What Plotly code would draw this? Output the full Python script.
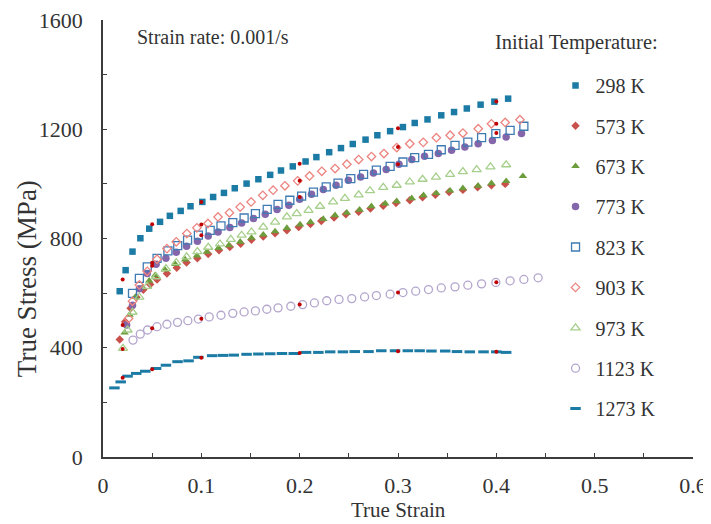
import plotly.graph_objects as go

# ---- data (true strain, true stress MPa) ----
x_298 = [0.017, 0.023, 0.030, 0.038, 0.047, 0.058, 0.068, 0.079, 0.089, 0.101, 0.112, 0.123,
         0.134, 0.146, 0.158, 0.170, 0.181, 0.193, 0.206, 0.217, 0.230, 0.242, 0.254, 0.267,
         0.279, 0.292, 0.305, 0.317, 0.330, 0.344, 0.357, 0.370, 0.384, 0.398, 0.412]
y_298 = [607, 684, 752, 801, 836, 861, 883, 901, 918, 934, 952, 967,
         984, 1001, 1017, 1033, 1049, 1064, 1082, 1098, 1116, 1131, 1146, 1162,
         1178, 1193, 1208, 1223, 1236, 1251, 1263, 1276, 1290, 1301, 1312]

x_573 = [0.017, 0.0225, 0.028, 0.034, 0.041, 0.048, 0.055, 0.065, 0.075, 0.085, 0.096, 0.107,
         0.118, 0.129, 0.140, 0.151, 0.163, 0.175, 0.187, 0.199, 0.211, 0.222, 0.235, 0.247,
         0.260, 0.272, 0.285, 0.298, 0.312, 0.325, 0.338, 0.352, 0.366, 0.381, 0.395, 0.409]
y_573 = [430, 495, 545, 585, 612, 632, 650, 672, 693, 712, 728, 743,
         757, 769, 781, 795, 807, 819, 830, 842, 853, 864, 877, 889,
         898, 910, 920, 930, 940, 951, 960, 970, 978, 988, 995, 1000]

x_673 = [0.022, 0.027, 0.033, 0.040, 0.047, 0.053, 0.063, 0.0735, 0.0836, 0.0955, 0.1056, 0.1175,
         0.128, 0.1395, 0.151, 0.163, 0.175, 0.187, 0.2004, 0.211, 0.224, 0.236, 0.248, 0.261,
         0.273, 0.287, 0.2987, 0.314, 0.326, 0.339, 0.353, 0.366, 0.3815, 0.395, 0.41, 0.427]
y_673 = [455, 520, 586, 620, 645, 665, 686, 706, 723, 737, 751, 765,
         775, 788, 802, 814, 826, 838, 851, 860, 871, 885, 894, 905,
         918, 928, 936, 947, 958, 966, 975, 984, 993, 1002, 1010, 1028]

x_773 = [0.024, 0.030, 0.037, 0.045, 0.054, 0.064, 0.0745, 0.085, 0.096, 0.107, 0.117, 0.129,
         0.141, 0.153, 0.165, 0.177, 0.189, 0.200, 0.212, 0.224, 0.237, 0.2495, 0.262, 0.275,
         0.288, 0.301, 0.314, 0.327, 0.341, 0.3545, 0.368, 0.3815, 0.396, 0.410, 0.4256]
y_773 = [483, 556, 616, 672, 706, 728, 750, 772, 790, 809, 824, 840,
         857, 873, 889, 906, 922, 944, 962, 979, 995, 1013, 1025, 1040,
         1053, 1072, 1089, 1101, 1111, 1123, 1135, 1147, 1159, 1172, 1184]

x_823 = [0.030, 0.037, 0.045, 0.055, 0.066, 0.076, 0.086, 0.097, 0.109, 0.120, 0.132, 0.1435,
         0.155, 0.167, 0.178, 0.190, 0.202, 0.214, 0.227, 0.239, 0.252, 0.265, 0.278, 0.292,
         0.305, 0.317, 0.331, 0.344, 0.358, 0.371, 0.385, 0.3995, 0.414, 0.428]
y_823 = [599, 654, 696, 727, 755, 774, 794, 812, 830, 846, 858, 875,
         891, 907, 925, 940, 955, 970, 989, 1003, 1019, 1035, 1050, 1064,
         1080, 1096, 1108, 1125, 1141, 1153, 1169, 1184, 1196, 1211]

x_903 = [0.026, 0.030, 0.037, 0.045, 0.0549, 0.065, 0.0745, 0.0853, 0.0955, 0.1067, 0.117, 0.1286,
         0.1395, 0.1506, 0.1625, 0.173, 0.185, 0.198, 0.210, 0.2225, 0.236, 0.248, 0.260, 0.273,
         0.2857, 0.2987, 0.312, 0.3257, 0.339, 0.353, 0.366, 0.3816, 0.395, 0.409, 0.424]
y_903 = [507, 570, 630, 680, 724, 763, 788, 818, 839, 855, 879, 894,
         915, 934, 958, 977, 993, 1011, 1029, 1046, 1056, 1072, 1089, 1100,
         1111, 1133, 1147, 1152, 1169, 1178, 1186, 1202, 1220, 1225, 1235]

x_973 = [0.0203, 0.025, 0.030, 0.037, 0.045, 0.054, 0.064, 0.0745, 0.085, 0.096, 0.107, 0.119,
         0.130, 0.141, 0.151, 0.163, 0.175, 0.187, 0.197, 0.209, 0.2207, 0.234, 0.246, 0.260,
         0.2715, 0.285, 0.2987, 0.312, 0.325, 0.3386, 0.353, 0.366, 0.380, 0.394, 0.410]
y_973 = [398, 465, 530, 585, 625, 660, 690, 712, 733, 752, 768, 780,
         797, 812, 824, 842, 860, 879, 891, 903, 918, 934, 947, 960,
         975, 987, 995, 1007, 1017, 1025, 1035, 1045, 1052, 1062, 1070]

x_1123 = [0.0305, 0.0379, 0.0453, 0.0549, 0.065, 0.0758, 0.0863, 0.097, 0.108, 0.120, 0.132, 0.1435,
          0.155, 0.1666, 0.178, 0.191, 0.203, 0.215, 0.2275, 0.240, 0.253, 0.266, 0.278, 0.292,
          0.305, 0.318, 0.331, 0.344, 0.358, 0.371, 0.385, 0.3995, 0.414, 0.428, 0.4425]
y_1123 = [428, 450, 465, 477, 486, 493, 499, 505, 513, 519, 526, 531,
          535, 541, 546, 552, 558, 564, 572, 577, 580, 586, 591, 596,
          602, 607, 613, 619, 623, 629, 634, 639, 645, 650, 656]

x_1273 = [0.0116, 0.018, 0.025, 0.0338, 0.043, 0.054, 0.064, 0.0758, 0.087, 0.097, 0.111, 0.122,
          0.133, 0.146, 0.158, 0.170, 0.182, 0.194, 0.2065, 0.219, 0.231, 0.244, 0.256, 0.270,
          0.283, 0.297, 0.310, 0.322, 0.334, 0.348, 0.360, 0.373, 0.387, 0.400, 0.410]
y_1273 = [253, 275, 296, 306, 314, 324, 336, 349, 352, 365, 371, 372,
          373, 376, 377, 378, 379, 379, 383, 383, 385, 385, 386, 386,
          389, 389, 389, 389, 388, 388, 386, 385, 385, 385, 383]

# small red reference dots sitting on top of the curves
x_red = [0.02, 0.05, 0.1, 0.2, 0.3, 0.4,
         0.05, 0.1, 0.2, 0.3, 0.4,
         0.05, 0.1, 0.2, 0.3, 0.4,
         0.02, 0.02,
         0.05, 0.1, 0.2, 0.3, 0.4,
         0.02, 0.05, 0.1, 0.2, 0.3, 0.4]
y_red = [650, 852, 934, 1074, 1204, 1302,
         711, 851, 1011, 1135, 1220,
         700, 812, 952, 1072, 1186,
         483, 395,
         471, 506, 558, 602, 640,
         290, 321, 363, 381, 387, 385]

series = [
    ("298 K", x_298, y_298, "square", "#1C7BA5", 6.5, 0),
    ("573 K", x_573, y_573, "diamond", "#C9514B", 6.5, 0),
    ("673 K", x_673, y_673, "triangle-up", "#6C9C3B", 7.5, 0),
    ("773 K", x_773, y_773, "circle", "#8467AA", 7.5, 0),
    ("823 K", x_823, y_823, "square-open", "#3F7BB3", 8, 1.3),
    ("903 K", x_903, y_903, "diamond-open", "#EC8580", 6.5, 1.3),
    ("973 K", x_973, y_973, "triangle-up-open", "#A6CF8B", 8, 1.3),
    ("1123 K", x_1123, y_1123, "circle-open", "#B3A5CD", 8, 1.3),
    ("1273 K", x_1273, y_1273, "line-ew", "#1C7BA5", 7.5, 3),
]

fig = go.Figure()
for name, xs, ys, sym, col, size, lw in series:
    fig.add_trace(go.Scatter(
        x=xs, y=ys, mode="markers", name=name, legendgroup=name,
        marker=dict(symbol=sym, color=col, size=size,
                    line=dict(width=lw, color=col)),
    ))

fig.add_trace(go.Scatter(x=x_red, y=y_red, mode="markers", showlegend=False,
                         marker=dict(color="#C00000", size=4)))

font_family = "Liberation Serif"
axis_col = "#3C3C3C"

# the page body adds an 8px offset, margins below make up for it
fig.update_layout(
    width=711, height=524,
    margin=dict(l=95, r=26, t=11.5, b=75),
    paper_bgcolor="white", plot_bgcolor="white",
    font=dict(family=font_family, size=22, color="#333333"),
    showlegend=True,
    legend=dict(x=0.767, y=0.895, xanchor="left", yanchor="top",
                font=dict(size=20, family=font_family, color="#333333"),
                tracegroupgap=11.4, bgcolor="rgba(0,0,0,0)"),
    xaxis=dict(range=[0, 0.6], tickvals=[0, 0.1, 0.2, 0.3, 0.4, 0.5, 0.6],
               ticktext=["0", "0.1", "0.2", "0.3", "0.4", "0.5", "0.6"],
               ticks="inside", ticklen=4, tickcolor=axis_col,
               minor=dict(ticks="inside", tickvals=[0.05, 0.15, 0.25, 0.35, 0.45, 0.55],
                          ticklen=4, tickcolor=axis_col),
               showline=True, linecolor=axis_col, linewidth=1.5,
               showgrid=False, zeroline=False, ticklabelstandoff=8, automargin=False,
               ticklabeloverflow="allow"),
    yaxis=dict(range=[0, 1600], tickvals=[0, 400, 800, 1200, 1600],
               ticks="inside", ticklen=4, tickcolor=axis_col,
               minor=dict(ticks="inside", tickvals=[200, 600, 1000, 1400],
                          ticklen=4, tickcolor=axis_col),
               showline=True, linecolor=axis_col, linewidth=1.5,
               showgrid=False, zeroline=False, ticklabelstandoff=14, automargin=False,
               ticklabeloverflow="allow"),
)

fig.add_annotation(text="True Strain", xref="paper", yref="paper",
                   x=0.5, y=-0.121, xanchor="center", yanchor="middle",
                   showarrow=False, font=dict(size=21))
fig.add_annotation(text="True Stress (MPa)", xref="paper", yref="paper",
                   x=-0.129, y=0.409, xanchor="center", yanchor="middle",
                   textangle=-90, showarrow=False, font=dict(size=27))
fig.add_annotation(text="Strain rate: 0.001/s", xref="paper", yref="paper",
                   x=0.0546, y=0.962, xanchor="left", yanchor="middle",
                   showarrow=False, font=dict(size=20))
fig.add_annotation(text="Initial Temperature:", xref="paper", yref="paper",
                   x=0.661, y=0.949, xanchor="left", yanchor="middle",
                   showarrow=False, font=dict(size=20.5))

fig.write_html("out.html")
